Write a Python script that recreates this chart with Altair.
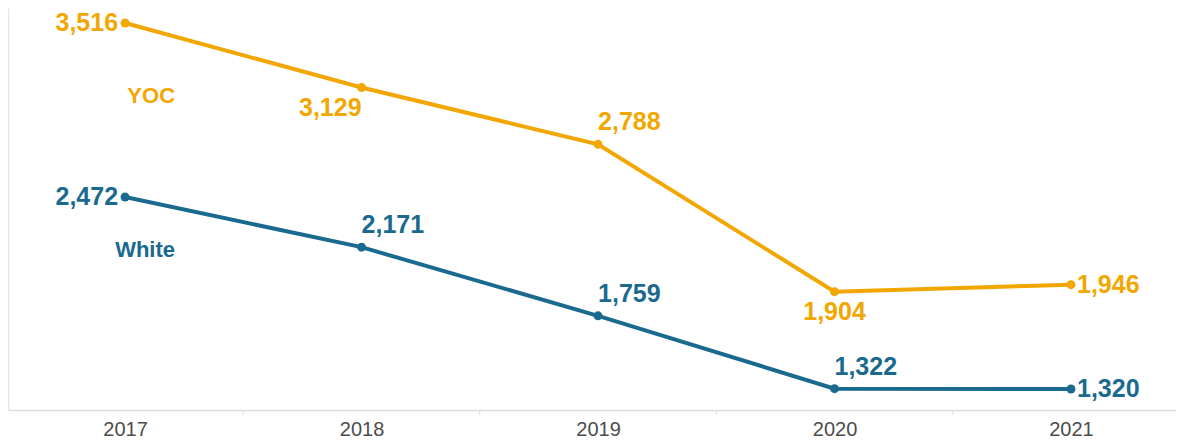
import altair as alt
import pandas as pd

years = [2017, 2018, 2019, 2020, 2021]
yoc = [3516, 3129, 2788, 1904, 1946]
white = [2472, 2171, 1759, 1322, 1320]
series_names = ["YOC", "White"]
series_colors = ["#F2A700", "#1A6A90"]
half_years = [2017.5, 2018.5, 2019.5, 2020.5]

rows = []
for name, vals in zip(series_names, [yoc, white]):
    for yr, v in zip(years, vals):
        rows.append({"series": name, "year": yr, "value": v})
df = pd.DataFrame(rows)

# label placement per point (style only)
placement = {
    ("YOC", 2017): "left", ("YOC", 2018): "below_left", ("YOC", 2019): "above",
    ("YOC", 2020): "below", ("YOC", 2021): "right",
    ("White", 2017): "left", ("White", 2018): "above", ("White", 2019): "above",
    ("White", 2020): "above", ("White", 2021): "right",
}
df["place"] = [placement[(s, y)] for s, y in zip(df["series"], df["year"])]

styles = {
    "left": dict(align="right", dx=-7, dy=0),
    "right": dict(align="left", dx=6, dy=0),
    "above": dict(align="left", dx=0, dy=-22),
    "below": dict(align="center", dx=0, dy=20),
    "below_left": dict(align="right", dx=0, dy=20),
}

FONT = "Liberation Sans"

x = alt.X("year:Q", scale=alt.Scale(domain=[2016.505, 2021.444], nice=False, zero=False),
          axis=alt.Axis(values=years, format="d", title=None, grid=False, ticks=False,
                        labelFontSize=20, labelColor="#4d4d4d", labelFont=FONT,
                        labelPadding=9, domainColor="#dcdcdc", domainWidth=1.5,
                        labelFlush=False))
y = alt.Y("value:Q", scale=alt.Scale(domain=[1194, 3606], nice=False, zero=False),
          axis=alt.Axis(title=None, labels=False, ticks=False, grid=False,
                        domainColor="#e6e6e6", domainWidth=1.5))
color = alt.Color("series:N", scale=alt.Scale(domain=series_names, range=series_colors), legend=None)

base = alt.Chart(df)
lines = base.mark_line(strokeWidth=4).encode(x=x, y=y, color=color, detail="series:N")
points = base.mark_circle(size=80, opacity=1).encode(x="year:Q", y="value:Q", color=color)

layers = [lines, points]
for key, st in styles.items():
    layers.append(
        base.transform_filter(alt.datum.place == key)
        .mark_text(fontSize=25, fontWeight="bold", font=FONT, baseline="middle", **st)
        .encode(x="year:Q", y="value:Q", text=alt.Text("value:Q", format=","), color=color)
    )

name_dy = {"YOC": 73, "White": 53}
for name in series_names:
    layers.append(
        base.transform_filter((alt.datum.series == name) & (alt.datum.year == years[0]))
        .mark_text(fontSize=22, fontWeight="bold", font=FONT, baseline="middle",
                   align="right", dx=50, dy=name_dy[name])
        .encode(x="year:Q", y="value:Q", text="series:N", color=color)
    )

tick_df = pd.DataFrame({"h": half_years})
ticks = alt.Chart(tick_df).mark_rule(color="#dcdcdc", strokeWidth=1).encode(
    x="h:Q", y=alt.value(402), y2=alt.value(407))
layers.append(ticks)

chart = alt.layer(*layers).properties(
    width=1168, height=402,
    padding={"left": 0, "top": 0, "right": 0, "bottom": 0},
).configure(background="white").configure_view(stroke=None, strokeWidth=0)

chart.save("out.html", embed_options={"renderer": "svg", "actions": False})
